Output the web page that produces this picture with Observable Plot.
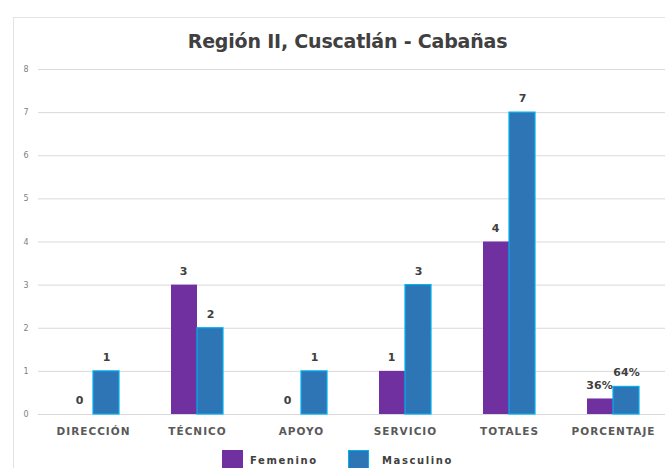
<!DOCTYPE html>
<html>
<head>
<meta charset="utf-8">
<script src="https://cdn.jsdelivr.net/npm/d3@7"></script>
<script src="https://cdn.jsdelivr.net/npm/@observablehq/plot@0.6"></script>
<style>
  body { margin: 0; background: #fff; font-family: "DejaVu Sans", sans-serif; }
  #wrap { position: relative; width: 665px; height: 468px; overflow: hidden; background: #fff; }
  #frame { position: absolute; left: 13px; top: 17px; width: 700px; height: 500px;
           border-left: 1px solid #e3e3e3; border-top: 1px solid #e3e3e3; }
  #title { position: absolute; left: 0; width: 695px; top: 30px; text-align: center;
           font-size: 19px; font-weight: bold; color: #404040; letter-spacing: -0.2px; }
  #chart { position: absolute; left: 0; top: 0; }
  .sw { position: absolute; top: 450px; width: 21px; height: 20px; }
  .lg { position: absolute; top: 455px; font-size: 10px; font-weight: bold; color: #404040; letter-spacing: 1.6px; }
  .xax text { letter-spacing: 1px; }
</style>
</head>
<body>
<div id="wrap">
  <div id="frame"></div>
  <div id="chart"></div>
  <div id="title"></div>
  <div class="sw" style="left:222px;background:#7030a0"></div>
  <div class="lg" id="lg0" style="left:250px"></div>
  <div class="sw" style="left:348px;background:#2e75b6;border:1px solid #00b0f0;box-sizing:border-box"></div>
  <div class="lg" id="lg1" style="left:382px"></div>
</div>
<script>
const title = "Región II, Cuscatlán - Cabañas";
const categories = ["DIRECCIÓN", "TÉCNICO", "APOYO", "SERVICIO", "TOTALES", "PORCENTAJE"];
const series = ["Femenino", "Masculino"];
const femenino = [0, 3, 0, 1, 4, 0.36];
const masculino = [1, 2, 1, 3, 7, 0.64];
const femeninoLabels = ["0", "3", "0", "1", "4", "36%"];
const masculinoLabels = ["1", "2", "1", "3", "7", "64%"];
const yTicks = [0, 1, 2, 3, 4, 5, 6, 7, 8];

const fem = categories.map((c, i) => ({cat: c, v: femenino[i], label: femeninoLabels[i]}));
const mas = categories.map((c, i) => ({cat: c, v: masculino[i], label: masculinoLabels[i]}));

document.getElementById("title").textContent = title;
document.getElementById("lg0").textContent = series[0];
document.getElementById("lg1").textContent = series[1];

const plot = Plot.plot({
  width: 665,
  height: 468,
  marginTop: 69,
  marginBottom: 54,
  marginLeft: 38,
  marginRight: 0,
  style: {background: "transparent", fontFamily: "DejaVu Sans, sans-serif"},
  x: {domain: categories, range: [41, 665], paddingInner: 0.5, paddingOuter: 0.25, label: null},
  y: {domain: [0, 8], label: null},
  marks: [
    Plot.gridY(yTicks, {stroke: "#d9d9d9", strokeOpacity: 1}),
    Plot.axisY(yTicks, {tickSize: 0, tickPadding: 10, fontSize: 8, fill: "#808080", label: null}),
    Plot.axisX({tickSize: 0, tickPadding: 13, fontSize: 10.5, fontWeight: "bold", fill: "#595959", label: null,
                className: "xax"}),
    Plot.barY(fem, {x: "cat", y: "v", fill: "#7030a0", insetRight: 26}),
    Plot.barY(mas, {x: "cat", y: "v", fill: "#2e75b6", stroke: "#00b0f0", strokeWidth: 1.2, insetLeft: 26}),
    Plot.text(fem, {x: "cat", y: "v", text: "label", dx: -14, dy: -14, fontSize: 11, fontWeight: "bold", fill: "#404040"}),
    Plot.text(mas, {x: "cat", y: "v", text: "label", dx: 13, dy: -14, fontSize: 11, fontWeight: "bold", fill: "#404040"})
  ]
});
document.getElementById("chart").appendChild(plot);
</script>
</body>
</html>
